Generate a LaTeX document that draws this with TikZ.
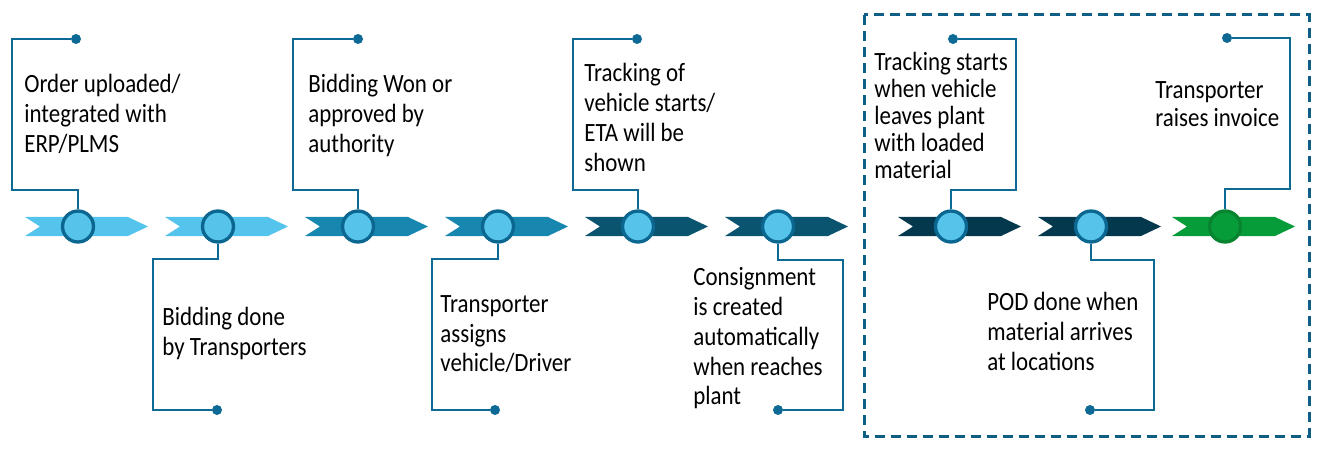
\documentclass[tikz,border=0pt]{standalone}
\usepackage{fontspec}
\setmainfont[FakeStretch=0.87]{Carlito}
\usetikzlibrary{positioning}

\definecolor{lightchev}{HTML}{54C4EC}
\definecolor{midchev}{HTML}{1787B0}
\definecolor{darkchev}{HTML}{0A5470}
\definecolor{deepchev}{HTML}{04384D}
\definecolor{greenchev}{HTML}{079C3A}
\definecolor{greenring}{HTML}{08832F}
\definecolor{dotfill}{HTML}{55C3EA}
\definecolor{ringblue}{HTML}{0B6790}
\definecolor{leaderblue}{HTML}{0E6A94}
\definecolor{framecol}{HTML}{0E5E85}

\tikzset{
  stepdot/.style={circle,draw=ringblue,line width=1.9pt,fill=dotfill,minimum size=0.62cm,inner sep=0pt},
  leader/.style={draw=leaderblue,line width=1.1pt},
  enddot/.style={circle,fill=leaderblue,minimum size=0.2cm,inner sep=0pt},
  steptext/.style={anchor=north west,inner sep=0pt,align=left,font=\fontsize{15}{17}\selectfont},
}

\begin{document}
\begin{tikzpicture}[x=0.02cm,y=-0.02cm]
\useasboundingbox (0,0) rectangle (1321,459);

% chevron band
\foreach \s/\c in {25/lightchev,165/lightchev,305/midchev,445/midchev,585/darkchev,725/darkchev,898/deepchev,1038/deepchev,1172/greenchev}
  \fill[\c] (\s,217) -- ++(103,0) -- ++(20,9.5) -- ++(-20,9.5) -- ++(-103,0) -- ++(15,-9.5) -- cycle;

% step circles
\node[stepdot] (c1) at (78,226.5) {};
\node[stepdot] (c2) at (218,226.5) {};
\node[stepdot] (c3) at (358,226.5) {};
\node[stepdot] (c4) at (498,226.5) {};
\node[stepdot] (c5) at (638,226.5) {};
\node[stepdot] (c6) at (778,226.5) {};
\node[stepdot] (c7) at (951,226.5) {};
\node[stepdot] (c8) at (1091,226.5) {};
\node[stepdot,draw=greenring,fill=greenchev] (c9) at (1225,226.5) {};

% end dots
\node[enddot] (d1) at (76,39) {};
\node[enddot] (d2) at (217,410) {};
\node[enddot] (d3) at (358,39) {};
\node[enddot] (d4) at (495,410) {};
\node[enddot] (d5) at (637,39) {};
\node[enddot] (d6) at (778,410) {};
\node[enddot] (d7) at (953,39) {};
\node[enddot] (d8) at (1090,410) {};
\node[enddot] (d9) at (1227,38) {};

% leaders
\draw[leader] (c1.north) |- (12,190) |- (d1);
\draw[leader] (c2.south) |- (153,259) |- (d2);
\draw[leader] (c3.north) |- (293,190) |- (d3);
\draw[leader] (c4.south) |- (432,259) |- (d4);
\draw[leader] (c5.north) |- (573,190) |- (d5);
\draw[leader] (c6.south) |- (843,260) |- (d6);
\draw[leader] (c7.north) |- (1016,190) |- (d7);
\draw[leader] (c8.south) |- (1154,260) |- (d8);
\draw[leader] (c9.north) |- (1290,189) |- (d9);

% texts
\node[steptext] (t1) at (24,74) {Order uploaded/\\integrated with\\ERP/PLMS};
\node[steptext] (t2) at (162,307) {Bidding done\\by Transporters};
\node[steptext] (t3) at (308,74) {Bidding Won or\\approved by\\authority};
\node[steptext] (t4) at (440,295) {Transporter\\assigns\\vehicle/Driver};
\node[steptext] (t5) at (584,63) {Tracking of\\vehicle starts/\\ETA will be\\shown};
\node[steptext] (t6) at (693,267) {Consignment\\is created\\automatically\\when reaches\\plant};
\node[steptext,font=\fontsize{15}{15.4}\selectfont] (t7) at (874,52) {Tracking starts\\when vehicle\\leaves plant\\with loaded\\material};
\node[steptext] (t8) at (987,292) {POD done when\\material arrives\\at locations};
\node[steptext,font=\fontsize{15}{16}\selectfont] (t9) at (1155,81) {Transporter\\raises invoice};

% frame round the last three steps
\draw[framecol,line width=0.06cm,dash pattern=on 0.2cm off 0.12cm] (864,15) rectangle (1309,436);

\end{tikzpicture}
\end{document}
